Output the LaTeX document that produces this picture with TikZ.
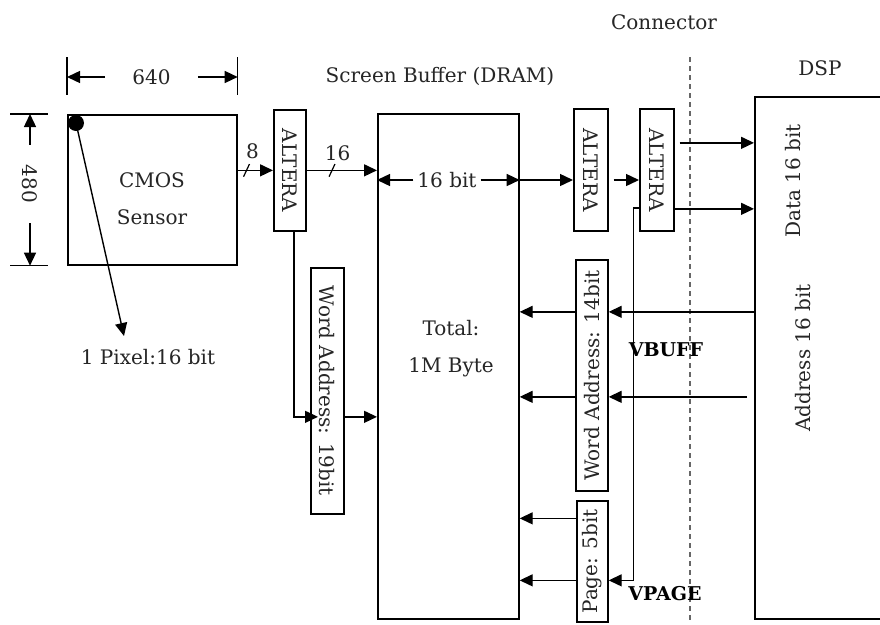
\documentclass[tikz,border=0pt]{standalone}
\usepackage{fontspec}
\setmainfont{DejaVu Serif}
\usepackage{graphicx}
\usetikzlibrary{arrows.meta}
\newcommand{\figfont}{\fontsize{20}{37}\selectfont}
\newcommand{\rotdn}[1]{\rotatebox{-90}{#1}}
\newcommand{\rotup}[1]{\rotatebox{90}{#1}}

\begin{document}
\begin{tikzpicture}[x=1pt, y=-1pt,
  every node/.style={font=\figfont, text=black!85},
  box/.style={rectangle, draw=black, line width=1.7pt, anchor=north west, inner sep=0pt},
  sig/.style={draw=black, line width=1.4pt, -{Triangle[length=13pt, width=12pt]}},
  tick/.style={draw=black, line width=1.5pt},
  dimlbl/.style={inner ysep=2pt},
  slash/.style={draw, line width=1.2pt, inner sep=0pt, minimum width=0pt,
                minimum height=14pt, rotate=-25},
  pix/.style={circle, fill=black, inner sep=0pt, minimum size=16pt},
  conn/.style={draw=black!60, line width=1.1pt, dash pattern=on 5pt off 4pt},
  tag/.style={font=\fontsize{19}{22}\selectfont\bfseries, text=black},
]
\fill[white] (0,0) rectangle (880,624);
\useasboundingbox (0,0) rectangle (880,624);
% ================= sensor side ==============================================
\node[box, minimum width=169pt, minimum height=150pt] (cmos) at (67,114) {};
\node (cmosLbl) at (152,198.5) [align=center] {CMOS\\Sensor};
\node[pix] (px) at (76,123) {};
\coordinate (pxTip) at (124,336);
\node (pxLbl) at (148,357) {1 Pixel:16 bit};
\draw[sig] (px.center) -- (pxTip);
% dimension marks
\draw[tick] (cmos.north west) ++(0,-57) -- ++(0,38);
\draw[tick] (cmos.north east) ++(0,-57) -- ++(0,38);
\draw[tick] (cmos.north west) ++(-57,0) -- ++(38,0);
\draw[tick] (cmos.south west) ++(-57,0) -- ++(38,0);
\node[dimlbl, inner xsep=27pt] (w640) at (151.5,77) {640};
\draw[sig] (w640) -- (w640 -| cmos.west);
\draw[sig] (w640) -- (w640 -| cmos.east);
\node[dimlbl, inner xsep=20pt, rotate=-90] (h480) at (30,184) {480};
\draw[sig] (h480) -- (h480 |- cmos.north);
\draw[sig] (h480) -- (h480 |- cmos.south);
% ================= ALTERA + screen buffer ===================================
\node[box, minimum width=32pt, minimum height=121pt] (altA) at (273,109) {\rotdn{ALTERA}};
\node[box, minimum width=33pt, minimum height=246pt] (wa19) at (310,267) {\rotdn{Word Address: 19bit}};
\node[box, minimum width=141pt, minimum height=505pt] (dram) at (377,113) {};
\node (dramLbl) at (440,76) {Screen Buffer (DRAM)};
\node (total) at (451,349) [align=center] {Total:\\1M Byte};
\draw[sig] (cmos.east |- altA.west) -- node[pos=.25, slash] {} node[pos=.42, above=11pt, inner sep=0pt] {8} (altA.west);
\draw[sig] (altA.east) -- node[pos=.36, slash] {} node[pos=.44, above=9pt, inner sep=0pt] {16} (altA.east -| dram.west);
\coordinate (wa) at ([yshift=-26pt]wa19.west);
\draw[sig, shorten >=-8pt] ([xshift=4pt]altA.south) |- (wa);
\draw[sig] (wa -| wa19.east) -- (wa -| dram.west);
\node[inner xsep=4pt] (bw) at (447,180) {16 bit};
\draw[sig] (bw) -- (bw -| dram.west);
\draw[sig] (bw) -- (bw -| dram.east);
% ================= connector side ===========================================
\node[box, minimum width=34pt, minimum height=122pt] (altB) at (573,108) {\rotdn{ALTERA}};
\node[box, minimum width=34pt, minimum height=122pt] (altC) at (639,108) {\rotdn{ALTERA}};
\node[box, minimum width=32pt, minimum height=231pt] (wa14) at (575,259) {\rotup{Word Address: 14bit}};
\node[box, minimum width=31pt, minimum height=121pt] (pg5) at (576,500) {\rotup{Page: 5bit}};
\draw[sig] (bw -| dram.east) -- (bw -| altB.west);
\draw[sig, shorten <=5pt] (bw -| altB.east) -- (bw -| altC.west);
\coordinate (cnT) at (690,57);
\coordinate (cnB) at (690,620);
\draw[conn] (cnT) -- (cnB);
\node (cnLbl) at (664,22) {Connector};
% ================= DSP ======================================================
\node[box, minimum width=246pt, minimum height=522pt] (dsp) at (754,96) {};
\node (dspLbl) at (820,68) {DSP};
\node[rotate=90] (dataLbl) at (793,181) {Data 16 bit};
\node[rotate=90] (addrLbl) at (803,358) {Address 16 bit};
\coordinate (dA) at ([yshift=27pt]altC.east);
\coordinate (dB) at ([yshift=-39pt]altC.east);
\draw[sig, shorten <=5pt] (dA) -- (dA -| dsp.west);
\draw[sig] (dB) -- (dB -| dsp.west);
% address and page lines back to the buffer
\coordinate (aA) at ([yshift=46pt]dsp.west);
\coordinate (aB) at ([xshift=-7pt, yshift=-39pt]dsp.west);
\draw[sig] (aA) -- (aA -| wa14.east);
\draw[sig] (aA -| wa14.west) -- (aA -| dram.east);
\draw[sig] (aB) -- (aB -| wa14.east);
\draw[sig] (aB -| wa14.west) -- (aB -| dram.east);
\coordinate (lp) at ([yshift=-38pt]altC.west);
\coordinate (vp) at ([xshift=25pt, yshift=-19pt]pg5.east);
\draw[sig] (lp) -| (vp) -- (vp -| pg5.east);
\coordinate (pA) at ([yshift=43pt]pg5.west);
\draw[sig] (pA) -- (pA -| dram.east);
\draw[sig] (vp -| pg5.west) -- (vp -| dram.east);
\node[tag] (vbuff) at (666,350) {VBUFF};
\node[tag] (vpage) at (665,594) {VPAGE};
\end{tikzpicture}
\end{document}
